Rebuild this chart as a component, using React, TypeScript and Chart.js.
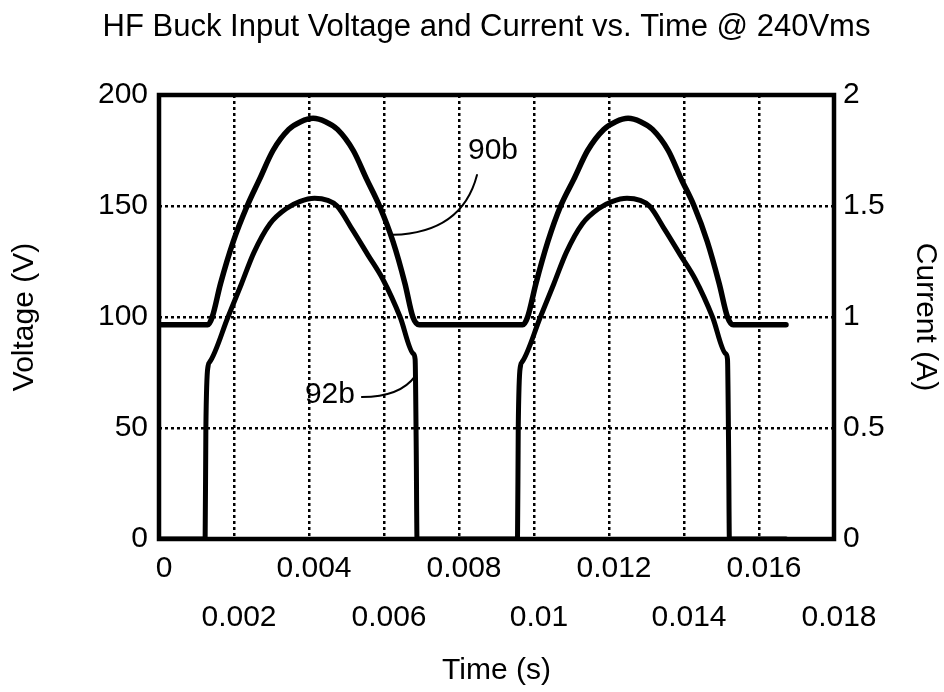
import React, { useEffect, useRef } from 'react';
import { Chart, registerables } from 'chart.js';

Chart.register(...registerables);

const FONT = '"Liberation Sans", Arial, Helvetica, sans-serif';

const chartTitle = 'HF Buck Input Voltage and Current vs. Time @ 240Vms';
const xTitle = 'Time (s)';
const yLeftTitle = 'Voltage (V)';
const yRightTitle = 'Current (A)';

const xTickLabels = ['0', '0.002', '0.004', '0.006', '0.008', '0.01', '0.012', '0.014', '0.016', '0.018'];
const yLeftTickLabels = ['0', '50', '100', '150', '200'];
const yRightTickLabels = ['0', '0.5', '1', '1.5', '2'];

// Curve 90b: input voltage (V), time in seconds
const voltageTime = [
  0, 0.0013, 0.00142, 0.00164, 0.00198, 0.00235, 0.00268, 0.00304, 0.00346, 0.00378,
  0.00411, 0.00444, 0.00476, 0.00518, 0.00554, 0.00588, 0.00624, 0.00656, 0.00677, 0.00694,
  0.0097, 0.00983, 0.01005, 0.01037, 0.01071, 0.01106, 0.01143, 0.01186, 0.01218,
  0.01251, 0.01284, 0.01316, 0.01358, 0.01393, 0.01427, 0.01462, 0.01494, 0.01516, 0.01531,
  0.01672,
];
const voltageValues = [
  96.5, 96.5, 100, 115, 134, 150, 162, 175, 184.5, 188,
  189.5, 188, 184.5, 175, 162, 150, 134, 115, 100, 96.5,
  96.5, 100, 115, 134, 150, 162, 175, 184.5, 188,
  189.5, 188, 184.5, 175, 162, 150, 134, 115, 100, 96.5,
  96.5,
];

// Curve 92b: input current (A), time in seconds
const currentTime = [
  0, 0.00123, 0.00125, 0.00131, 0.00135, 0.00184, 0.0022, 0.00253, 0.00296, 0.00341, 0.00375,
  0.00415, 0.0045, 0.00475, 0.00517, 0.00557, 0.00597, 0.00643, 0.00678, 0.00683, 0.00686, 0.00688,
  0.00956, 0.00958, 0.00964, 0.00968, 0.01017, 0.01053, 0.01086, 0.01129, 0.01174, 0.01208,
  0.01248, 0.01283, 0.01308, 0.0135, 0.0139, 0.0143, 0.01476, 0.01511, 0.01516, 0.01519, 0.01521,
  0.01672,
];
const currentValues = [
  0, 0, 0.5, 0.78, 0.797, 1.0, 1.15, 1.29, 1.42, 1.49, 1.52,
  1.535, 1.525, 1.5, 1.39, 1.28, 1.17, 1.0, 0.835, 0.81, 0.4, 0,
  0, 0.5, 0.78, 0.797, 1.0, 1.15, 1.29, 1.42, 1.49, 1.52,
  1.535, 1.525, 1.5, 1.39, 1.28, 1.17, 1.0, 0.835, 0.81, 0.4, 0,
  0,
];

// Reference labels with leader curves (data coordinates: seconds, volts)
const calloutText = ['90b', '92b'];
const calloutTextX = [0.00824, 0.00389];
const calloutTextY = [175, 65];
const leaderStartX = [0.00848, 0.00541];
const leaderStartY = [164, 64];
const leaderCtrlX = [0.00808, 0.00643];
const leaderCtrlY = [138, 64];
const leaderEndX = [0.00624, 0.00683];
const leaderEndY = [137, 73.4];

const framePlugin = {
  id: 'frameAndCallouts',
  afterDatasetsDraw(chart: any) {
    const { ctx, chartArea, scales } = chart;
    const x = scales.x;
    const y = scales.y;
    ctx.save();
    ctx.strokeStyle = '#000';
    ctx.lineWidth = 4.5;
    ctx.setLineDash([]);
    ctx.strokeRect(chartArea.left, chartArea.top, chartArea.right - chartArea.left, chartArea.bottom - chartArea.top);

    ctx.lineWidth = 2;
    ctx.lineCap = 'round';
    for (let i = 0; i < calloutText.length; i++) {
      ctx.beginPath();
      ctx.moveTo(x.getPixelForValue(leaderStartX[i]), y.getPixelForValue(leaderStartY[i]));
      ctx.quadraticCurveTo(
        x.getPixelForValue(leaderCtrlX[i]), y.getPixelForValue(leaderCtrlY[i]),
        x.getPixelForValue(leaderEndX[i]), y.getPixelForValue(leaderEndY[i])
      );
      ctx.stroke();
    }
    ctx.fillStyle = '#000';
    ctx.font = `30px ${FONT}`;
    ctx.textAlign = 'left';
    ctx.textBaseline = 'middle';
    for (let i = 0; i < calloutText.length; i++) {
      ctx.fillText(calloutText[i], x.getPixelForValue(calloutTextX[i]), y.getPixelForValue(calloutTextY[i]));
    }
    ctx.restore();
  },
};

export default function App() {
  const ref = useRef<HTMLCanvasElement>(null);

  useEffect(() => {
    if (!ref.current) return;
    const voltagePoints = voltageTime.map((t, i) => ({ x: t, y: voltageValues[i] }));
    const currentPoints = currentTime.map((t, i) => ({ x: t, y: currentValues[i] }));

    const gridCommon = { color: '#000', lineWidth: 2.5, drawTicks: false };
    const borderCommon = { display: false, dash: [3, 3] };

    const chart = new Chart(ref.current, {
      type: 'line',
      data: {
        datasets: [
          {
            label: '90b',
            data: voltagePoints,
            yAxisID: 'y',
            borderColor: '#000',
            borderWidth: 5.5,
            pointRadius: 0,
            cubicInterpolationMode: 'monotone',
            fill: false,
            borderJoinStyle: 'round',
            borderCapStyle: 'round',
          },
          {
            label: '92b',
            data: currentPoints,
            yAxisID: 'y1',
            borderColor: '#000',
            borderWidth: 5,
            pointRadius: 0,
            cubicInterpolationMode: 'monotone',
            fill: false,
            borderJoinStyle: 'round',
            borderCapStyle: 'round',
          },
        ],
      },
      options: {
        responsive: false,
        animation: false,
        devicePixelRatio: 1,
        layout: { padding: { left: 29, right: 0, top: 0, bottom: 0 } },
        plugins: {
          legend: { display: false },
          tooltip: { enabled: false },
          title: {
            display: true,
            text: chartTitle,
            color: '#000',
            fullSize: true,
            font: { family: FONT, size: 31, weight: 'normal', lineHeight: 1.2 },
            padding: { top: 9, bottom: 48.8 },
          },
        },
        scales: {
          x: {
            type: 'linear',
            min: 0,
            max: 0.018,
            grid: gridCommon,
            border: borderCommon,
            ticks: {
              stepSize: 0.002,
              autoSkip: false,
              maxRotation: 0,
              minRotation: 0,
              padding: 5,
              labelOffset: 5,
              color: '#000',
              font: { family: FONT, size: 30, lineHeight: 49 / 30 },
              callback: (_v: any, index: number) =>
                index % 2 === 0 ? [xTickLabels[index], ''] : ['', xTickLabels[index]],
            },
            title: {
              display: true,
              text: xTitle,
              color: '#000',
              font: { family: FONT, size: 30, lineHeight: 1.2 },
              padding: { top: 0, bottom: 3 },
            },
            afterFit: (s: any) => {
              s.height = 153;
            },
          },
          y: {
            type: 'linear',
            position: 'left',
            min: 0,
            max: 200,
            grid: gridCommon,
            border: borderCommon,
            ticks: {
              stepSize: 50,
              padding: 11,
              color: '#000',
              font: { family: FONT, size: 30 },
              callback: (_v: any, index: number) => yLeftTickLabels[index],
            },
            title: {
              display: true,
              text: yLeftTitle,
              color: '#000',
              font: { family: FONT, size: 30, lineHeight: 1.2 },
              padding: { top: -22, bottom: 0 },
            },
            afterFit: (s: any) => {
              s.width = 130;
            },
          },
          y1: {
            type: 'linear',
            position: 'right',
            min: 0,
            max: 2,
            grid: { display: false, drawTicks: false },
            border: { display: false },
            ticks: {
              stepSize: 0.5,
              padding: 9,
              color: '#000',
              font: { family: FONT, size: 30 },
              callback: (_v: any, index: number) => yRightTickLabels[index],
            },
            title: {
              display: true,
              text: yRightTitle,
              color: '#000',
              font: { family: FONT, size: 30, lineHeight: 1.2 },
              padding: { top: 1, bottom: 0 },
            },
            afterFit: (s: any) => {
              s.width = 110;
            },
          },
        },
      } as any,
      plugins: [framePlugin],
    });
    return () => chart.destroy();
  }, []);

  return (
    <div style={{ position: 'absolute', left: 0, top: 0, width: 944, height: 692, background: '#fff' }}>
      <canvas ref={ref} width={944} height={692} style={{ display: 'block' }} />
    </div>
  );
}
